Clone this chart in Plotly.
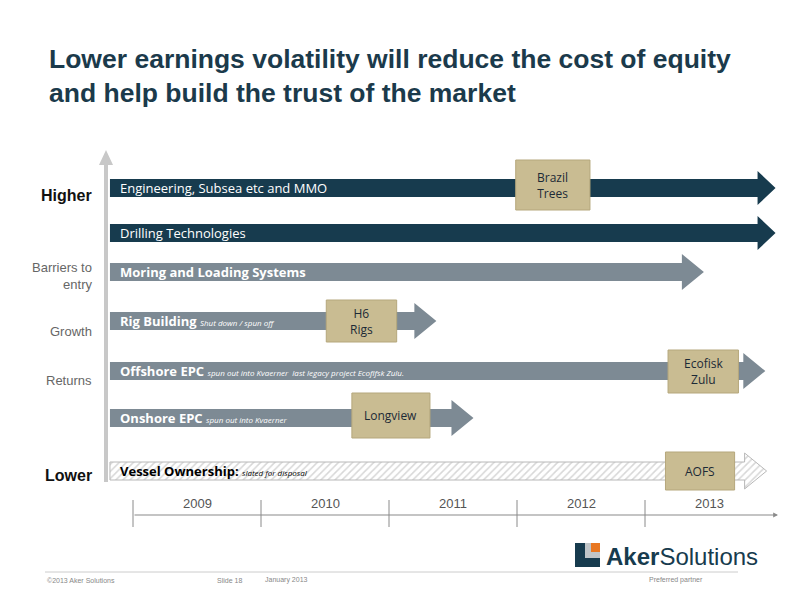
import plotly.graph_objects as go

# ---- data ----
years = [2009, 2010, 2011, 2012, 2013]
bar_names = ["Engineering, Subsea etc and MMO", "Drilling Technologies", "Moring and Loading Systems",
             "Rig Building", "Offshore EPC", "Onshore EPC", "Vessel Ownership:"]
bar_notes = ["", "", "", "Shut down / spun off", "spun out into Kvaerner  last legacy project Ecofifsk Zulu.",
             "spun out into Kvaerner", "slated for disposal"]
bar_start = [2008.82] * 7
bar_end = [2014.02, 2014.02, 2013.46, 2011.37, 2013.94, 2011.66, 2013.95]
bar_row = [188, 233, 272, 321, 371, 418, 471]
bar_style = ["dark", "dark", "gray", "gray", "gray", "gray", "hatch"]
box_labels = ["Brazil<br>Trees", "H6<br>Rigs", "Ecofisk<br>Zulu", "Longview", "AOFS"]
box_x0 = [2011.99, 2010.51, 2013.18, 2010.71, 2013.16]
box_x1 = [2012.57, 2011.06, 2013.73, 2011.32, 2013.70]
box_y0 = [160, 300, 350, 393, 452]
box_y1 = [210, 342, 393, 438, 490]
side_labels = ["Higher", "Barriers to<br>entry", "Growth", "Returns", "Lower"]
side_rows = [195, 276, 331, 380, 475]
side_bold = [True, False, False, False, True]

DARK = "#173b4e"; GRAY = "#7d8a94"; TAN = "#c9bc92"
PX = 128.0  # pixels per year
X0 = 2009 - 133 / PX
def yr(px): return X0 + px / PX
OFF = 8  # page body margin compensation

fig = go.Figure()
for i, name in enumerate(bar_names):
    s, e, y = bar_start[i], bar_end[i], bar_row[i]
    dark = bar_style[i] == "dark"
    hh = 9
    ah = 17 if dark else 18
    alen = 18 / PX if dark else 22 / PX
    xs = [s, e - alen, e - alen, e, e - alen, e - alen, s, s]
    ys = [y - hh, y - hh, y - ah, y, y + ah, y + hh, y + hh, y - hh]
    if bar_style[i] == "hatch":
        fig.add_trace(go.Scatter(x=xs, y=ys, fill="toself", mode="lines",
                                 line=dict(color="#b8b8b8", width=1), fillcolor="white",
                                 fillpattern=dict(shape="/", fgcolor="#b0b0b0", bgcolor="white", size=5, solidity=0.3),
                                 hoverinfo="skip"))
    else:
        fig.add_trace(go.Scatter(x=xs, y=ys, fill="toself", mode="lines", line=dict(width=0),
                                 fillcolor=DARK if dark else GRAY, hoverinfo="skip"))
    col = "black" if bar_style[i] == "hatch" else "white"
    if dark:
        txt = name
        size = 13
    else:
        txt = f"<b>{name}</b>" + (f" <i><span style='font-size:8px'>{bar_notes[i]}</span></i>" if bar_notes[i] else "")
        size = 13
    fig.add_annotation(x=s + 8 / PX, y=y, text=txt, showarrow=False, xanchor="left", yanchor="middle",
                       font=dict(color=col, size=size, family="Open Sans"))

for i, lab in enumerate(box_labels):
    fig.add_shape(type="rect", x0=box_x0[i], x1=box_x1[i], y0=box_y0[i], y1=box_y1[i],
                  fillcolor=TAN, line=dict(color="#b5a77c", width=1))
    fig.add_annotation(x=(box_x0[i] + box_x1[i]) / 2, y=(box_y0[i] + box_y1[i]) / 2, text=lab, showarrow=False,
                       font=dict(color="#1c2a36", size=12, family="Open Sans"))

# vertical axis
fig.add_shape(type="line", x0=yr(106), x1=yr(106), y0=482, y1=162, line=dict(color="#c8c8c8", width=4))
fig.add_trace(go.Scatter(x=[yr(99), yr(106), yr(113), yr(99)], y=[165, 150, 165, 165], fill="toself",
                         mode="lines", line=dict(width=0), fillcolor="#c8c8c8", hoverinfo="skip"))
for i, lab in enumerate(side_labels):
    fig.add_annotation(x=yr(94), y=side_rows[i], text=f"<b>{lab}</b>" if side_bold[i] else lab, showarrow=False,
                       xanchor="right", align="right",
                       font=dict(color="#111" if side_bold[i] else "#666", size=16 if side_bold[i] else 13,
                                 family="Arial"))

# timeline
fig.add_annotation(x=yr(778), y=515, ax=yr(133), ay=515, xref="x", yref="y", axref="x", ayref="y", text="",
                   showarrow=True, arrowhead=2, arrowsize=0.8, arrowwidth=1.2, arrowcolor="#8a8a8a")
for k, ylab in enumerate(years):
    fig.add_shape(type="line", x0=ylab, x1=ylab, y0=500, y1=527, line=dict(color="#8a8a8a", width=1))
    fig.add_annotation(x=ylab + 0.5, y=503, text=str(ylab), showarrow=False,
                       font=dict(color="#555", size=13, family="Arial"))

# title
fig.add_annotation(x=yr(47), y=76, text="<b>Lower earnings volatility will reduce the cost of equity<br>and help build the trust of the market</b>",
                   showarrow=False, xanchor="left", align="left",
                   font=dict(color="#1b3a4b", size=26.5, family="Arial"))

# logo
fig.add_shape(type="rect", x0=yr(575), x1=yr(600), y0=543, y1=567, fillcolor=DARK, line=dict(width=0))
fig.add_shape(type="rect", x0=yr(585), x1=yr(600), y0=543, y1=558, fillcolor="#c0c5c8", line=dict(width=0))
fig.add_shape(type="rect", x0=yr(591), x1=yr(600), y0=543, y1=552, fillcolor="#e87722", line=dict(width=0))
fig.add_annotation(x=yr(604), y=556, text="<b>Aker</b>Solutions", showarrow=False, xanchor="left",
                   font=dict(color=DARK, size=24, family="Arial"))
fig.add_shape(type="line", x0=yr(45), x1=yr(738), y0=572, y1=572, line=dict(color="#cccccc", width=1))
for tx, px, anch in [("©2013 Aker Solutions", 45, "left"), ("Slide 18", 215, "left"),
                     ("January 2013", 263, "left"), ("Preferred partner", 705, "right")]:
    fig.add_annotation(x=yr(px), y=580, text=tx, showarrow=False, xanchor=anch,
                       font=dict(color="#888", size=7, family="Arial"))

fig.update_layout(width=800, height=600, margin=dict(l=0, r=0, t=0, b=0), showlegend=False,
                  plot_bgcolor="white", paper_bgcolor="white",
                  xaxis=dict(range=[yr(OFF), yr(800 + OFF)], visible=False, fixedrange=True),
                  yaxis=dict(range=[600 + OFF, OFF], visible=False, fixedrange=True))
fig.write_html("out.html")
